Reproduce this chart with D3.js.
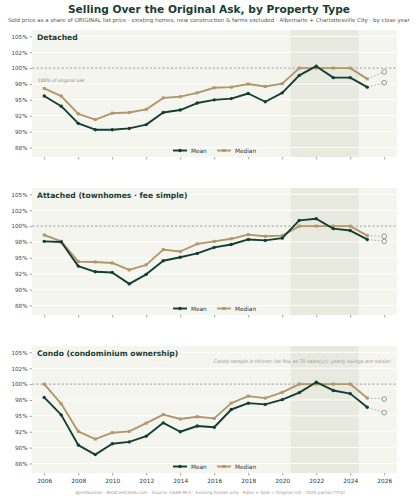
<!DOCTYPE html>
<html><head><meta charset="utf-8">
<script src="https://cdn.jsdelivr.net/npm/d3@7"></script>
<style>body{margin:0;background:#fff;} svg{display:block;font-family:"DejaVu Sans",sans-serif;}</style>
</head><body>
<script>
const years = [2006,2007,2008,2009,2010,2011,2012,2013,2014,2015,2016,2017,2018,2019,2020,2021,2022,2023,2024,2025,2026];
const panelTitles = ["Detached","Attached  (townhomes \u00b7 fee simple)","Condo  (condominium ownership)"];
const detachedMean   = [95.6,94.0,91.3,90.3,90.3,90.5,91.1,93.0,93.4,94.5,95.0,95.2,96.0,94.7,96.1,98.85,100.3,98.5,98.5,97.0,97.7];
const detachedMedian = [96.8,95.6,92.8,91.9,92.9,93.0,93.5,95.3,95.5,96.1,96.9,97.0,97.5,97.1,97.55,100,100,100,100,98.3,99.4];
const attachedMean   = [97.6,97.5,93.7,92.8,92.7,90.9,92.4,94.55,95.1,95.7,96.65,97.1,97.9,97.75,98.1,100.9,101.15,99.6,99.3,97.9,97.6];
const attachedMedian = [98.6,97.6,94.4,94.35,94.2,93.1,93.9,96.3,96.0,97.2,97.6,98.0,98.65,98.4,98.5,100,100,100,100,98.5,98.4];
const condoMean      = [97.9,95.15,90.4,88.9,90.6,90.9,91.8,93.9,92.5,93.4,93.2,96.0,97.0,96.8,97.55,98.65,100.3,99.0,98.5,96.35,95.5];
const condoMedian    = [100,96.9,92.55,91.35,92.35,92.55,93.85,95.2,94.5,94.85,94.6,97.0,98.1,97.8,98.7,100,100,100,100,97.8,97.65];
const yTicks = [87.5,90,92.5,95,97.5,100,102.5,105];
const yTickLabels = ["88%","90%","92%","95%","98%","100%","102%","105%"];
const xTicks = [2006,2008,2010,2012,2014,2016,2018,2020,2022,2024,2026];
const seriesNames = ["Mean","Median"];
const panels = [
  {title: panelTitles[0], mean: detachedMean, median: detachedMedian},
  {title: panelTitles[1], mean: attachedMean, median: attachedMedian},
  {title: panelTitles[2], mean: condoMean, median: condoMedian}
];

const W = 418, H = 500;
const C = {mean:"#123f33", median:"#b39669", bg:"#f4f5ef", shade:"#e9eadf", text:"#1b3d33", grey:"#888"};
const svg = d3.select("body").append("svg").attr("width", W).attr("height", H);

svg.append("text").attr("x", W/2).attr("y", 13.2).attr("text-anchor","middle")
  .attr("font-size", 10.6).attr("font-weight","bold").attr("fill", C.text)
  .text("Selling Over the Original Ask, by Property Type");
svg.append("text").attr("x", W/2).attr("y", 21.8).attr("text-anchor","middle")
  .attr("font-size", 5.5).attr("fill", "#555")
  .text("Sold price as a share of ORIGINAL list price \u00b7 existing homes, new construction & farms excluded \u00b7 Albemarle + Charlottesville City \u00b7 by close year");

const x = d3.scaleLinear().domain([2005.28, 2026.75]).range([32, 397]);
const tops = [30, 188, 346], ph = 127;

panels.forEach((p, i) => {
  const top = tops[i];
  const y = d3.scaleLinear().domain([86.0, 106.0]).range([top + ph, top]);
  const g = svg.append("g");
  g.append("rect").attr("x", x.range()[0]).attr("y", top).attr("width", x.range()[1]-x.range()[0]).attr("height", ph).attr("fill", C.bg);
  g.append("rect").attr("x", x(2020.5)).attr("y", top).attr("width", x(2024.5)-x(2020.5)).attr("height", ph).attr("fill", C.shade);
  g.selectAll(".grid").data(yTicks).join("line")
    .attr("x1", x.range()[0]).attr("x2", x.range()[1])
    .attr("y1", d=>y(d)).attr("y2", d=>y(d)).attr("stroke","#fff").attr("stroke-width",0.9);
  const ya = g.append("g").attr("transform", `translate(${x.range()[0]},0)`)
    .call(d3.axisLeft(y).tickValues(yTicks).tickFormat((d,k)=>yTickLabels[k]).tickSize(2.5).tickPadding(2));
  ya.select(".domain").remove();
  ya.selectAll("line").attr("stroke","#666").attr("stroke-width",0.6);
  ya.selectAll("text").attr("font-size",5.6).attr("fill","#444").attr("font-family","DejaVu Sans");
  const xa = g.append("g").attr("transform", `translate(0,${top+ph})`)
    .call(d3.axisBottom(x).tickValues(xTicks).tickFormat(i===2 ? d3.format("d") : "").tickSize(2.5).tickPadding(3.5));
  xa.select(".domain").remove();
  xa.selectAll("line").attr("stroke","#666").attr("stroke-width",0.6);
  xa.selectAll("text").attr("font-size",5.8).attr("fill","#333").attr("font-family","DejaVu Sans");
  g.append("line").attr("x1", x.range()[0]).attr("x2", x.range()[1]).attr("y1", y(100)).attr("y2", y(100))
    .attr("stroke","#888").attr("stroke-width",0.8).attr("stroke-dasharray","2.6,1.6");
  g.append("text").attr("x", 37).attr("y", top+10).attr("font-size",7.6).attr("font-weight","bold").attr("fill",C.text).text(p.title);
  if (i===0) g.append("text").attr("x", 37.5).attr("y", y(100)+13.8).attr("font-size",4.6).attr("fill","#888").text("100% of original ask");
  if (i===2) g.append("text").attr("x", 391.5).attr("y", top+16.5).attr("text-anchor","end").attr("font-size",4.8).attr("font-style","italic").attr("fill","#999")
    .text("Condo sample is thinner (as few as 79 sales/yr); yearly swings are noisier.");

  const line = d3.line().x(d=>x(d[0])).y(d=>y(d[1]));
  [["median", p.median, C.median], ["mean", p.mean, C.mean]].forEach(([key, vals, col]) => {
    const pts = years.map((yr,k)=>[yr, vals[k]]);
    const solid = pts.slice(0, pts.length-1);
    const last = pts.slice(pts.length-2);
    g.append("path").datum(last).attr("d", line).attr("fill","none").attr("stroke","#aaa").attr("stroke-width",0.8).attr("stroke-dasharray","2,1.5");
    g.append("path").datum(solid).attr("d", line).attr("fill","none").attr("stroke",col).attr("stroke-width",1.9).attr("stroke-linejoin","round");
    if (key==="mean") {
      g.selectAll(null).data(solid).join("circle").attr("cx",d=>x(d[0])).attr("cy",d=>y(d[1])).attr("r",1.7).attr("fill",col);
    } else {
      g.selectAll(null).data(solid).join("rect").attr("x",d=>x(d[0])-1.5).attr("y",d=>y(d[1])-1.5).attr("width",3).attr("height",3).attr("fill",col);
    }
    const lp = pts[pts.length-1];
    g.append("circle").attr("cx", x(lp[0])).attr("cy", y(lp[1])).attr("r",2.3).attr("fill","#fff").attr("stroke","#777").attr("stroke-width",0.8);
  });
  const ly = top + ph - 6.5;
  const lg = g.append("g");
  [[173, C.mean, seriesNames[0], "c"], [217, C.median, seriesNames[1], "s"]].forEach(([lx, col, name, m]) => {
    lg.append("line").attr("x1", lx).attr("x2", lx+14).attr("y1", ly).attr("y2", ly).attr("stroke", col).attr("stroke-width",1.9);
    if (m==="c") lg.append("circle").attr("cx", lx+7).attr("cy", ly).attr("r",1.7).attr("fill",col);
    else lg.append("rect").attr("x", lx+5.5).attr("y", ly-1.5).attr("width",3).attr("height",3).attr("fill",col);
    lg.append("text").attr("x", lx+18).attr("y", ly+2).attr("font-size",5.8).attr("fill","#333").text(name);
  });
});

svg.append("text").attr("x", W/2+1).attr("y", 493.5).attr("text-anchor","middle").attr("font-size",4.3).attr("fill","#999")
  .text("@JimDuncan \u00b7 RealCentralVA.com \u00b7 Source: CAAR MLS \u00b7 Existing homes only \u00b7 Ratio = Sold \u00f7 Original List \u00b7 2026 partial (YTD)");
</script>
</body></html>
